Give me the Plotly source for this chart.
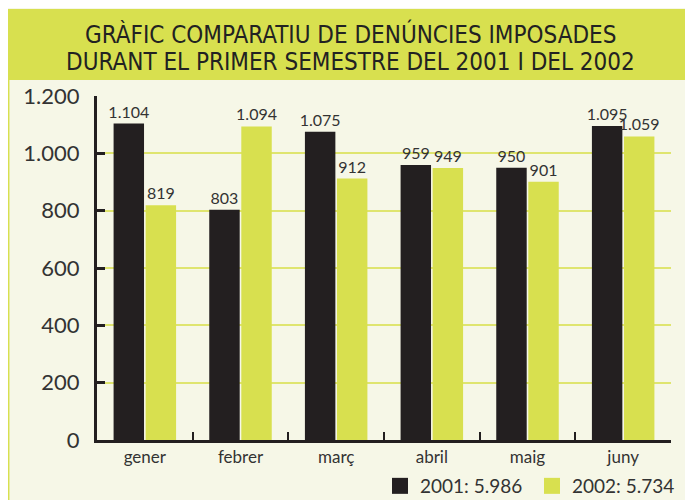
import plotly.graph_objects as go

months = ["gener", "febrer", "març", "abril", "maig", "juny"]
values_2001 = [1104, 803, 1075, 959, 950, 1095]
values_2002 = [819, 1094, 912, 949, 901, 1059]
label_2001 = ["1.104", "803", "1.075", "959", "950", "1.095"]
label_2002 = ["819", "1.094", "912", "949", "901", "1.059"]
legend_2001 = "2001: 5.986"
legend_2002 = "2002: 5.734"
y_ticks = [0, 200, 400, 600, 800, 1000, 1200]
y_tick_text = ["0", "200", "400", "600", "800", "1.000", "1.200"]
title_lines = ["GRÀFIC COMPARATIU DE DENÚNCIES IMPOSADES",
               "DURANT EL PRIMER SEMESTRE DEL 2001 I DEL 2002"]

DARK = "#231f20"
GREEN = "#d8e04f"
CREAM = "#f6f7e7"
GRID = "#dfe56f"
TEXT = "#333333"
FONT = "Lato, Open Sans, sans-serif"
TITLE_FONT = "DejaVu Sans Condensed, Liberation Sans Narrow, sans-serif"

# page offset of the figure (browser body margin)
OFF = 8
W, H = 685, 492
L, R, T, B = 89, 22, 88, 60
pw = W - L - R
ph = H - T - B


def px_x(x):  # page px -> paper
    return (x - OFF - L) / pw


def px_y(y):  # page px -> paper
    return (H - B - (y - OFF)) / ph


fig = go.Figure()
fig.add_trace(go.Bar(x=months, y=values_2001, marker_color=DARK, marker_line_width=0,
                     text=label_2001, textposition="outside", cliponaxis=False, constraintext="none",
                     textfont=dict(size=16, color=TEXT, family=FONT), showlegend=False))
fig.add_trace(go.Bar(x=months, y=values_2002, marker_color=GREEN, marker_line_width=0,
                     text=label_2002, textposition="outside", cliponaxis=False, constraintext="none",
                     textfont=dict(size=16, color=TEXT, family=FONT), showlegend=False))
fig.add_trace(go.Scatter(x=[None], y=[None], mode="markers", name=legend_2001,
                         marker=dict(symbol="square", size=16, color=DARK)))
fig.add_trace(go.Scatter(x=[None], y=[None], mode="markers", name=legend_2002,
                         marker=dict(symbol="square", size=16, color=GREEN)))

shapes = [
    dict(type="rect", xref="paper", yref="paper", x0=px_x(7), x1=px_x(700), y0=px_y(80), y1=px_y(9),
         fillcolor=GREEN, line_width=0, layer="below"),
    dict(type="line", xref="paper", yref="paper", x0=px_x(8.7), x1=px_x(8.7), y0=px_y(510), y1=px_y(80),
         line=dict(color=GREEN, width=1.5), layer="below"),
]

annotations = [
    dict(xref="paper", yref="paper", x=px_x(350), y=px_y(34), text=title_lines[0], showarrow=False,
         xanchor="center", yanchor="middle",
         font=dict(family=TITLE_FONT, size=24, color="#222222")),
    dict(xref="paper", yref="paper", x=px_x(350), y=px_y(62), text=title_lines[1], showarrow=False,
         xanchor="center", yanchor="middle",
         font=dict(family=TITLE_FONT, size=24, color="#222222")),
]

fig.update_layout(
    width=W, height=H,
    margin=dict(l=L, r=R, t=T, b=B, pad=0, autoexpand=False),
    paper_bgcolor=CREAM, plot_bgcolor=CREAM,
    barmode="group", bargap=0.33, bargroupgap=0.05,
    shapes=shapes, annotations=annotations,
    font=dict(family=FONT, color=TEXT),
    legend=dict(orientation="h", x=px_x(380), y=px_y(467), xanchor="left", yanchor="top",
                font=dict(size=19, color=TEXT, family=FONT), bgcolor="rgba(0,0,0,0)",
                itemsizing="trace", tracegroupgap=0, entrywidth=107),
    xaxis=dict(type="category", showline=True, linecolor=DARK, linewidth=3,
               ticks="inside", tickson="boundaries", ticklen=8, tickwidth=2, tickcolor=DARK,
               tickfont=dict(size=17, color=TEXT, family=FONT), showgrid=False, zeroline=False,
               fixedrange=True),
    yaxis=dict(range=[0, 1200], tickvals=y_ticks, ticktext=y_tick_text, showline=True,
               linecolor=DARK, linewidth=3, ticks="inside", ticklen=8, tickwidth=3, tickcolor=DARK,
               tickfont=dict(size=22, color=TEXT, family=FONT), showgrid=True, gridcolor=GRID,
               gridwidth=1.5, zeroline=False, ticklabelstandoff=10, fixedrange=True),
)

fig.write_html("out.html")
